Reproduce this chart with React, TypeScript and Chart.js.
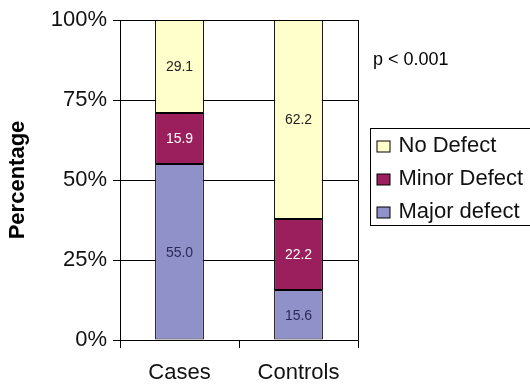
import React, { useEffect, useRef } from "react";
import { Chart, registerables } from "chart.js";

Chart.register(...registerables);

const categories = ["Cases", "Controls"];
const majorDefect = [55.0, 15.6];
const minorDefect = [15.9, 22.2];
const noDefect = [29.1, 62.2];
const yTicks = [0, 25, 50, 75, 100];
const pValueText = "p < 0.001";

const COLORS = {
  major: "#9191C9",
  minor: "#9A1F5C",
  none: "#FFFFCC",
};

const FONT = "Arial, 'Liberation Sans', sans-serif";

const labelsPlugin = {
  id: "segLabels",
  afterDatasetsDraw(chart: any) {
    const ctx = chart.ctx;
    ctx.save();
    ctx.font = `14px ${FONT}`;
    ctx.textAlign = "center";
    ctx.textBaseline = "middle";
    chart.data.datasets.forEach((ds: any, di: number) => {
      const meta = chart.getDatasetMeta(di);
      meta.data.forEach((bar: any, i: number) => {
        const v = ds.data[i];
        const cy = (bar.y + bar.base) / 2;
        ctx.fillStyle = ds.labelColor;
        ctx.fillText(v.toFixed(1), bar.x, cy + 1);
      });
    });
    ctx.restore();
  },
};

const framePlugin = {
  id: "frame",
  beforeDatasetsDraw(chart: any) {
    const { ctx, chartArea } = chart;
    ctx.save();
    ctx.strokeStyle = "#000";
    ctx.lineWidth = 1;
    ctx.beginPath();
    const x = Math.round(chartArea.right) + 0.5;
    ctx.moveTo(x, chartArea.top);
    ctx.lineTo(x, chartArea.bottom + 8);
    ctx.stroke();
    ctx.restore();
  },
  afterDraw(chart: any) {
    const { ctx, chartArea } = chart;
    ctx.save();
    // p value
    ctx.fillStyle = "#000";
    ctx.font = `18px ${FONT}`;
    ctx.textAlign = "left";
    ctx.textBaseline = "middle";
    ctx.fillText(pValueText, chartArea.right + 15, 60);
    // legend box
    const lx = Math.round(chartArea.right) + 12.5;
    const ly = 128.5;
    ctx.strokeStyle = "#000";
    ctx.lineWidth = 1;
    ctx.strokeRect(lx, ly, 200, 97);
    const items = [...chart.data.datasets].reverse();
    ctx.font = `22px ${FONT}`;
    items.forEach((ds: any, k: number) => {
      const cy = 146 + k * 33;
      ctx.fillStyle = ds.backgroundColor;
      ctx.fillRect(lx + 6.5, cy - 5, 13, 11);
      ctx.strokeStyle = "#000";
      ctx.strokeRect(lx + 6.5, cy - 5, 13, 11);
      ctx.fillStyle = "#111";
      ctx.fillText(ds.label, lx + 28, cy);
    });
    ctx.restore();
  },
};

export default function App() {
  const ref = useRef<HTMLCanvasElement>(null);
  useEffect(() => {
    if (!ref.current) return;
    const chart = new Chart(ref.current, {
      type: "bar",
      data: {
        labels: categories,
        datasets: [
          { label: "Major defect", data: majorDefect, backgroundColor: COLORS.major, labelColor: "#2a2a5a" } as any,
          { label: "Minor Defect", data: minorDefect, backgroundColor: COLORS.minor, labelColor: "#ffffff" } as any,
          { label: "No Defect", data: noDefect, backgroundColor: COLORS.none, labelColor: "#222222" } as any,
        ],
      },
      options: {
        animation: false,
        responsive: true,
        maintainAspectRatio: false,
        layout: { padding: { top: 20, right: 172, left: 0, bottom: 0 } },
        datasets: {
          bar: {
            borderColor: "#000",
            borderWidth: 1,
            borderSkipped: false,
            categoryPercentage: 1,
            barPercentage: 0.41,
          },
        },
        plugins: {
          legend: { display: false },
          tooltip: { enabled: false },
        },
        scales: {
          x: {
            stacked: true,
            grid: { drawOnChartArea: false, offset: true, color: "#000", tickLength: 8, lineWidth: 1 },
            border: { color: "#000" },
            ticks: { color: "#111", font: { family: FONT, size: 22 }, padding: 12 },
            afterFit(scale: any) { scale.height = 44; },
          },
          y: {
            stacked: true,
            min: 0,
            max: 100,
            afterBuildTicks(scale: any) { scale.ticks = yTicks.map((v) => ({ value: v })); },
            grid: { color: "#000", tickLength: 7, lineWidth: 1 },
            border: { color: "#000" },
            ticks: {
              color: "#111",
              font: { family: FONT, size: 22 },
              padding: 6,
              callback: (v: any) => `${v}%`,
            },
            title: {
              display: true,
              text: "Percentage",
              color: "#000",
              font: { family: FONT, size: 22, weight: "bold" },
              padding: { top: 5, bottom: 0 },
            },
            afterFit(scale: any) { scale.width = 120; },
          },
        },
      },
      plugins: [labelsPlugin, framePlugin],
    });
    return () => chart.destroy();
  }, []);
  return (
    <div style={{ position: "fixed", left: 0, top: 0, width: 530, height: 384, background: "#fff" }}>
      <canvas ref={ref} />
    </div>
  );
}
